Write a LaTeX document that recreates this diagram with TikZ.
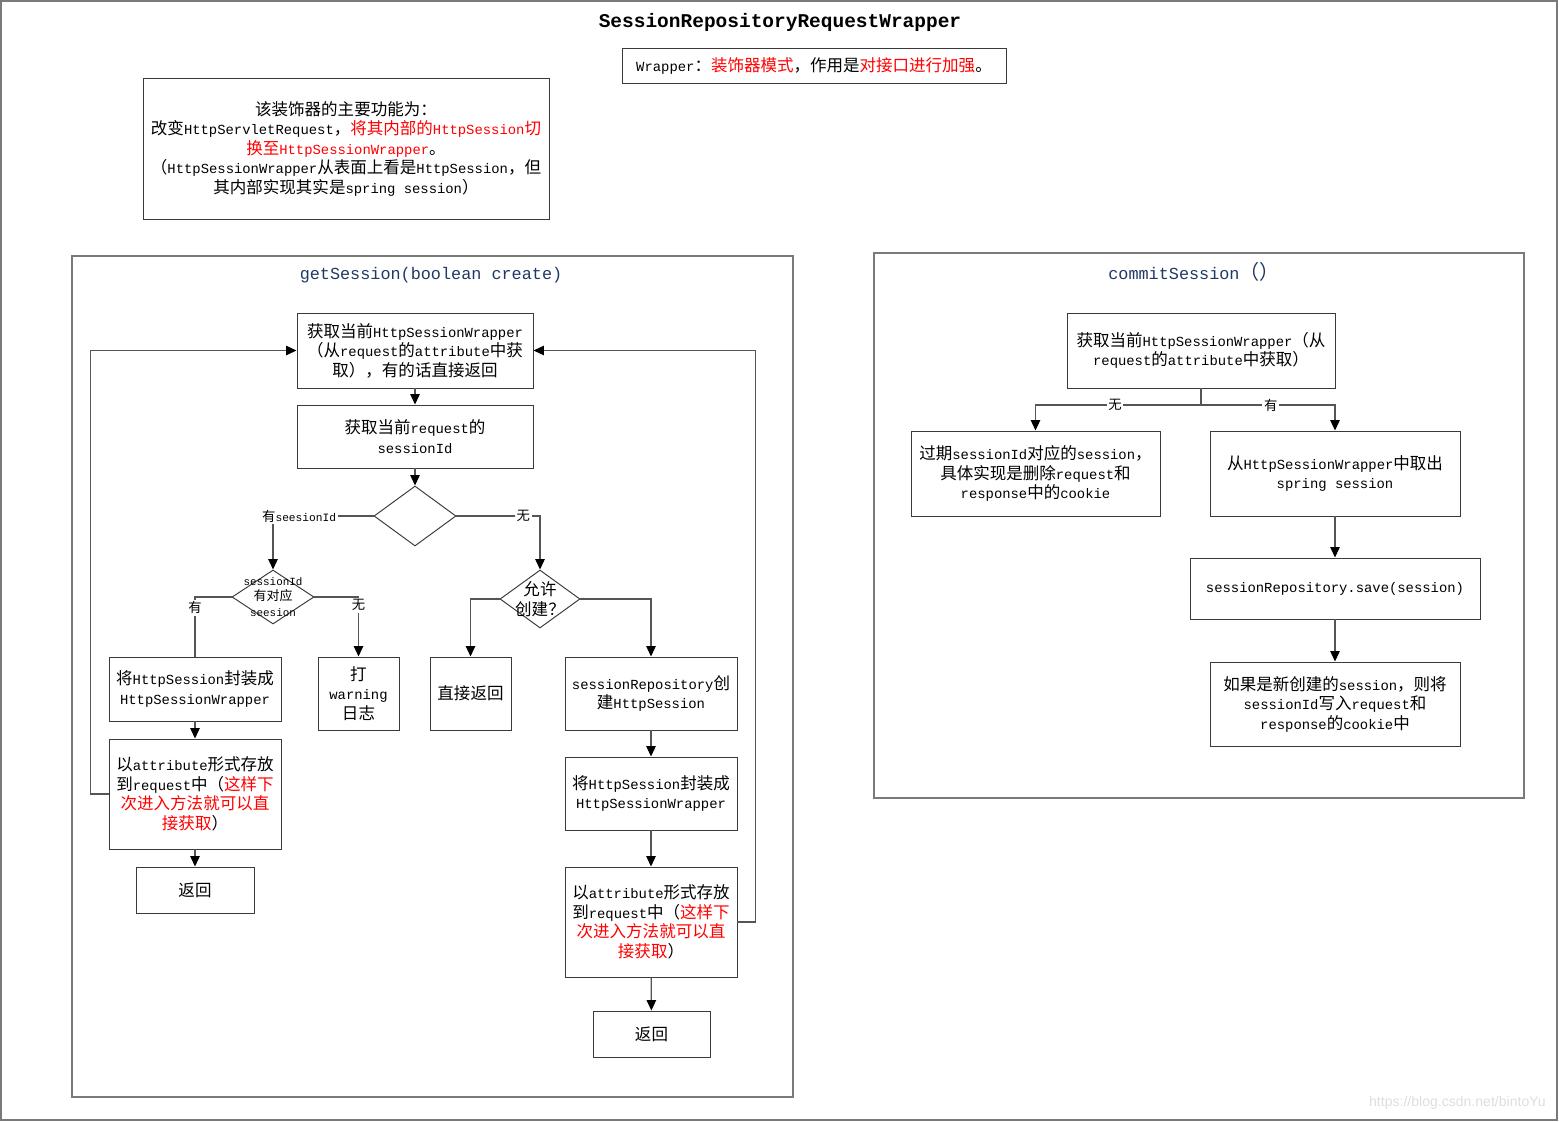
\documentclass[tikz,border=0pt]{standalone}
\usepackage{fontspec}
\usetikzlibrary{arrows.meta,shapes.geometric}
\setmainfont{Liberation Mono}[Scale=0.84]
\newfontfamily\cjkfont{Noto Sans CJK SC}
\newfontfamily\wmfont{Liberation Sans}

% 中文字符自动切换到 Noto Sans CJK SC
\XeTeXinterchartokenstate=1
\newXeTeXintercharclass\cjkclass
\newcount\cjkc
\cjkc="4E00
\loop\ifnum\cjkc<"A000 \XeTeXcharclass\cjkc=\cjkclass \advance\cjkc by 1 \repeat
\cjkc="3000
\loop\ifnum\cjkc<"3040 \XeTeXcharclass\cjkc=\cjkclass \advance\cjkc by 1 \repeat
\cjkc="FF00
\loop\ifnum\cjkc<"FFF0 \XeTeXcharclass\cjkc=\cjkclass \advance\cjkc by 1 \repeat
\XeTeXinterchartoks 0 \cjkclass={\cjkfont}
\XeTeXinterchartoks 4095 \cjkclass={\cjkfont}
\XeTeXinterchartoks \cjkclass 0={\rmfamily}
\XeTeXinterchartoks \cjkclass 4095={\rmfamily}

\definecolor{boxc}{HTML}{3A3A3A}
\definecolor{linec}{HTML}{555555}
\definecolor{framec}{HTML}{7A7A7A}
\definecolor{titlec}{HTML}{1F3864}
\definecolor{hl}{RGB}{255,0,0}

\tikzset{
  wh/.style 2 args={minimum width=#1*0.02cm, minimum height=#2*0.02cm},
  box/.style={draw=boxc, line width=0.55pt, inner sep=1pt, align=center,
    font=\fontsize{9.4}{11.1}\selectfont},
  cond/.style={draw=boxc, line width=0.55pt, inner sep=0pt, align=center,
    font=\fontsize{9.4}{11.1}\selectfont},
  lbl/.style={fill=white, inner sep=1pt, font=\fontsize{7.6}{9}\selectfont},
  arr/.style={draw=linec, line width=0.7pt, -{Triangle[length=0.21cm,width=0.19cm,black]}},
  ln/.style={draw=linec, line width=0.7pt},
  frame/.style={draw=framec, line width=0.8pt}
}

\begin{document}
\begin{tikzpicture}[x=0.02cm, y=-0.02cm]
    \useasboundingbox (0,0) rectangle (1559,1122);
    \draw[frame] (1,1) rectangle (1557,1120);

    % 标题
    \node (title) at (780,22) {\fontsize{13.2}{15}\selectfont\bfseries SessionRepositoryRequestWrapper};
    \node[box, wh={384}{35}] (note) at (814,65.5)
        {Wrapper：\textcolor{hl}{装饰器模式}，作用是\textcolor{hl}{对接口进行加强}。};
    \node[box, wh={406}{141}] (func) at (346,148.5)
        {该装饰器的主要功能为：\\
         改变HttpServletRequest，\textcolor{hl}{将其内部的HttpSession切}\\
         \textcolor{hl}{换至HttpSessionWrapper}。\\
         （HttpSessionWrapper从表面上看是HttpSession，但\\
         其内部实现其实是spring session）};

    % getSession
    \draw[frame] (72,256) rectangle (793,1097);
    \node[text=titlec] (gettitle) at (431,275) {\fontsize{11.4}{13}\selectfont getSession(boolean create)};

    \node[box, wh={236}{75}] (A) at (415,350.5)
        {获取当前HttpSessionWrapper\\（从request的attribute中获\\取），有的话直接返回};
    \node[box, wh={236}{63}] (B) at (415,436.5) {获取当前request的\\sessionId};
    \node[cond, diamond, wh={82}{60}] (D1) at (415,516) {};
    \node[cond, diamond, wh={82}{54}] (D2) at (273,597) {};
    \node[font=\fontsize{7.4}{8.6}\selectfont, align=center] at (273,597) {sessionId\\有对应\\seesion};
    \node[cond, diamond, wh={80}{58}] (D3) at (540,599) {};
    \node[align=center, font=\fontsize{9.4}{11.1}\selectfont] at (540,599) {允许\\创建？};

    \node[box, wh={172}{64}] (C1) at (195,689) {将HttpSession封装成\\HttpSessionWrapper};
    \node[box, wh={172}{110}] (C2) at (195,794)
        {以attribute形式存放\\到request中（\textcolor{hl}{这样下}\\\textcolor{hl}{次进入方法就可以直}\\\textcolor{hl}{接获取}）};
    \node[box, wh={118}{46}] (C3) at (195,890) {返回};
    \node[box, wh={81}{73}] (W) at (358.5,693.5) {打\\warning\\日志};
    \node[box, wh={81}{73}] (R) at (470.5,693.5) {直接返回};
    \node[box, wh={172}{73}] (E1) at (651,693.5) {sessionRepository创\\建HttpSession};
    \node[box, wh={172}{73}] (E2) at (651,793.5) {将HttpSession封装成\\HttpSessionWrapper};
    \node[box, wh={172}{110}] (E3) at (651,922)
        {以attribute形式存放\\到request中（\textcolor{hl}{这样下}\\\textcolor{hl}{次进入方法就可以直}\\\textcolor{hl}{接获取}）};
    \node[box, wh={117}{46}] (E4) at (651.5,1034) {返回};

    \draw[arr] (A) -- (B);
    \draw[arr] (B) -- (D1);
    \draw[arr] (D1.west) -| node[lbl, pos=0.37]{有seesionId} (D2.north);
    \draw[arr] (D1.east) -| node[lbl, pos=0.4]{无} (D3.north);
    \draw[ln] (D2.west) -| node[lbl, pos=0.59]{有} (C1.north);
    \draw[arr] (D2.east) -| node[lbl, pos=0.57]{无} (W.north);
    \draw[arr] (D3.west) -| (R.north);
    \draw[arr] (D3.east) -| (E1.north);
    \draw[arr] (C1) -- (C2);
    \draw[arr] (C2) -- (C3);
    \draw[arr] (E1) -- (E2);
    \draw[arr] (E2) -- (E3);
    \draw[arr] (E3) -- (E4);
    \draw[arr] (C2.west) -- ++(-18,0) |- (A.west);
    \draw[arr] (E3.east) -- ++(18,0) |- (A.east);

    % commitSession
    \draw[frame] (874,253) rectangle (1524,798);
    \node[text=titlec] (comtitle) at (1194,272) {\fontsize{11.4}{13}\selectfont commitSession（）};

    \node[box, wh={268}{75}] (F1) at (1201,350.5)
        {获取当前HttpSessionWrapper（从\\request的attribute中获取）};
    \node[box, wh={249}{85}] (G1) at (1035.5,473.5)
        {过期sessionId对应的session，\\具体实现是删除request和\\response中的cookie};
    \node[box, wh={250}{85}] (G2) at (1335,473.5) {从HttpSessionWrapper中取出\\spring session};
    \node[box, wh={290}{61}] (H) at (1335,588.5) {sessionRepository.save(session)};
    \node[box, wh={250}{84}] (I) at (1335,704)
        {如果是新创建的session，则将\\sessionId写入request和\\response的cookie中};

    \coordinate (fork) at (1201,405);
    \draw[ln] (F1.south) -- (fork);
    \draw[arr] (fork) -| node[lbl, pos=0.26]{无} (G1.north);
    \draw[arr] (fork) -| node[lbl, pos=0.26]{有} (G2.north);
    \draw[arr] (G2) -- (H);
    \draw[arr] (H) -- (I);

    \node[text=black!13, anchor=east] (wm) at (1551,1103) {\wmfont\fontsize{8}{9}\selectfont https://blog.csdn.net/bintoYu};
\end{tikzpicture}
\end{document}
